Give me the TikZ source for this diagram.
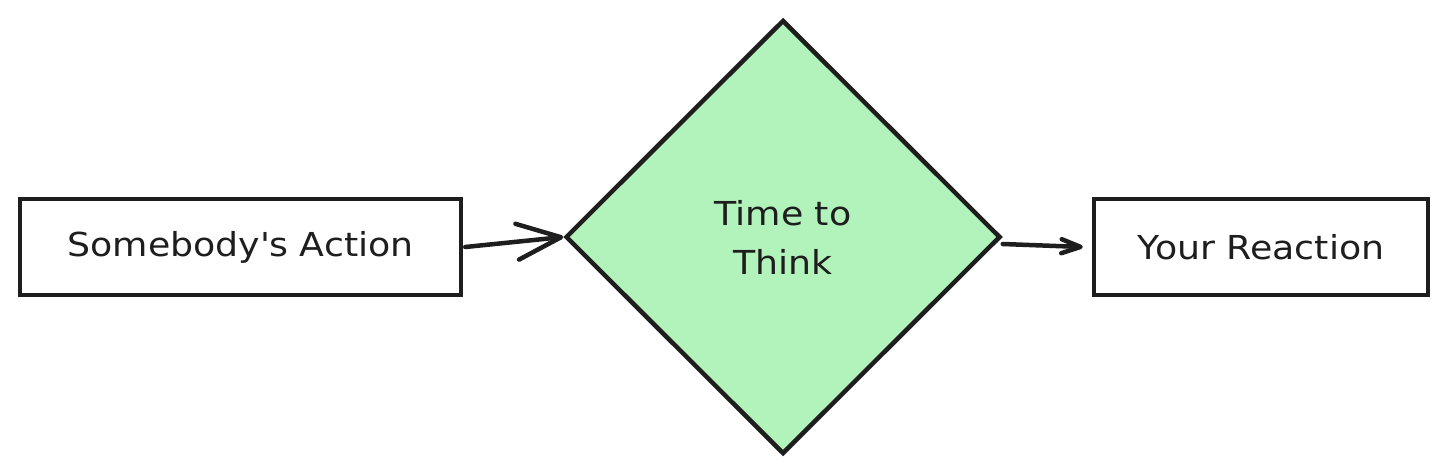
\documentclass[tikz,border=0pt]{standalone}
\usepackage{fontspec}
\setmainfont[FakeStretch=1.1]{DejaVu Sans}
\usetikzlibrary{shapes.geometric,arrows.meta}
\definecolor{ink}{HTML}{1E1E1E}
\definecolor{mint}{HTML}{B2F2BB}
\begin{document}
\begin{tikzpicture}[x=1pt,y=-1pt,
  boxnode/.style={draw=ink,line width=4.5pt,fill=white,minimum width=441pt,minimum height=96pt,inner sep=0pt,
    font=\fontsize{33}{49}\selectfont,text=ink},
  decnode/.style={diamond,draw=ink,line width=4.5pt,fill=mint,minimum width=435pt,minimum height=434pt,inner sep=0pt,
    align=center,font=\fontsize{33}{49}\selectfont,text=ink},
  conn/.style={draw=ink,line width=4.5pt,line cap=round}]
\useasboundingbox (0,0) rectangle (1448,474);
\fill[white] (0,0) rectangle (1448,474);
\node[boxnode] (a) at (240.5,247) {Somebody\textquotesingle s Action};
\node[decnode] (d) at (783,237) {Time to\\Think};
\node[boxnode,minimum width=334pt] (b) at (1261,247) {Your Reaction};
\coordinate (bend) at ([xshift=-9pt]b.west);
\draw[conn,-{Straight Barb[length=44pt,width=36pt,line width=4.5pt,round]}] ([xshift=2pt]a.east) -- (d.west);
\draw[conn,-{Straight Barb[length=19pt,width=14pt,line width=4.5pt,round]}] ([yshift=-7pt]d.east) -- (bend);
\end{tikzpicture}
\end{document}
